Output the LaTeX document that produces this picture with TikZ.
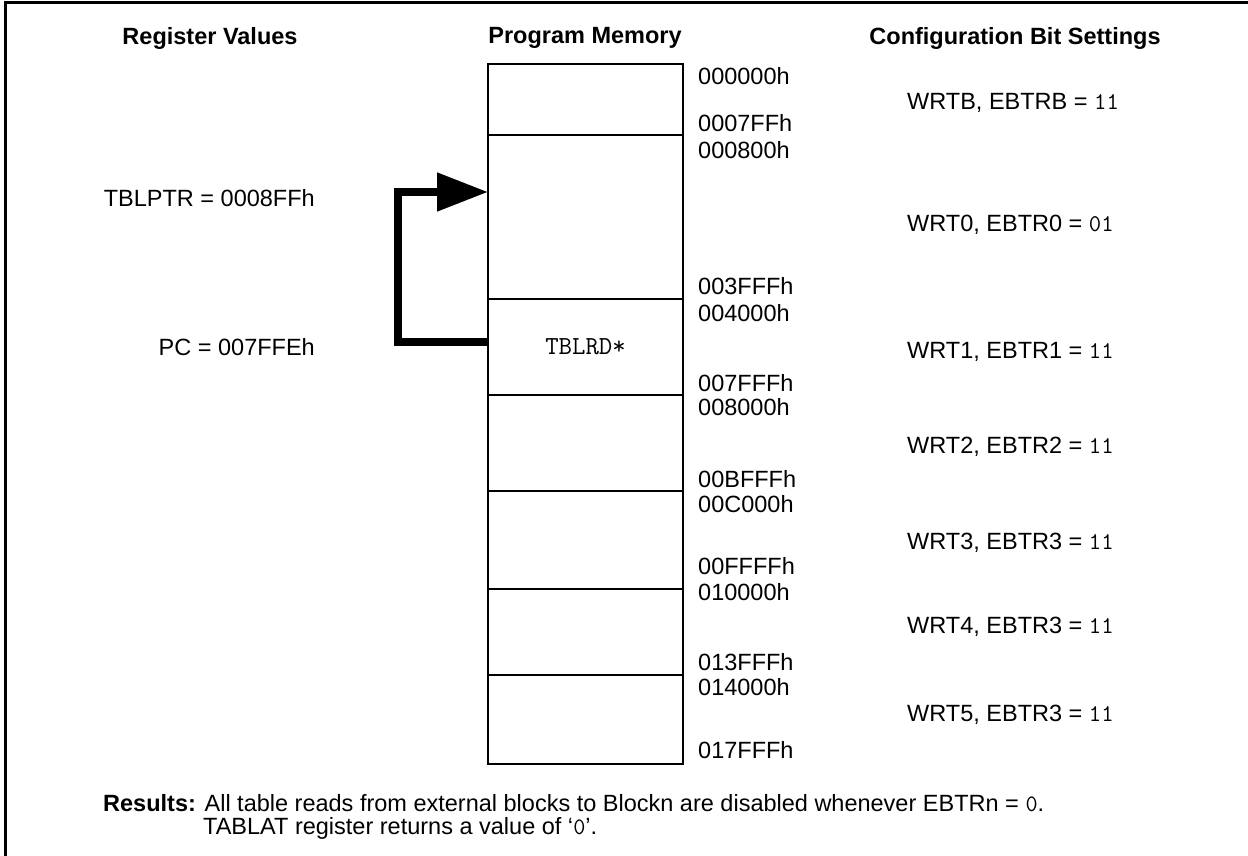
\documentclass[tikz,border=0pt]{standalone}
\usepackage{fontspec}
\setmainfont{Liberation Sans}
\usetikzlibrary{arrows.meta,positioning}

\begin{document}
\begin{tikzpicture}[
  x=1pt, y=-1pt,
  every node/.style={inner sep=0pt,font=\fontsize{23.5}{28}\selectfont},
  head/.style={font=\bfseries\fontsize{23.5}{28}\selectfont},
  memblock/.style={draw,line width=2.4pt,outer sep=0pt,minimum width=195pt,font=\ttfamily\fontsize{26}{30}\selectfont},
  addr/.style={anchor=west},
  bits/.style={anchor=west},
  reg/.style={anchor=east},
  jump/.style={line width=8pt,-{Triangle[length=51pt,width=37pt]}},
  every path/.style={line join=miter}
]
  \useasboundingbox (0,0) rectangle (1248,856);
  \draw[line width=3pt] (1248,3) -- (5,3) -- (5,856);

  \node[head] (hreg) at (210,38) {Register Values};
  \node[head] (hmem) at (585,38) {Program Memory};
  \node[head] (hcfg) at (1015,38) {Configuration Bit Settings};

  \node[memblock,minimum height=71pt] (blkB) at (585.5,99.5) {};
  \node[memblock,minimum height=164pt,below=0pt of blkB] (blk0) {};
  \node[memblock,minimum height=96pt,below=0pt of blk0] (blk1) {TBLRD*};
  \node[memblock,minimum height=96pt,below=0pt of blk1] (blk2) {};
  \node[memblock,minimum height=98pt,below=0pt of blk2] (blk3) {};
  \node[memblock,minimum height=86pt,below=0pt of blk3] (blk4) {};
  \node[memblock,minimum height=89pt,below=0pt of blk4] (blk5) {};

  \node[addr] (aB0) at (698,76) {000000h};
  \node[addr] (aB1) at (698,123) {0007FFh};
  \node[addr] (a00) at (698,150) {000800h};
  \node[addr] (a01) at (698,286) {003FFFh};
  \node[addr] (a10) at (698,313) {004000h};
  \node[addr] (a11) at (698,383) {007FFFh};
  \node[addr] (a20) at (698,407) {008000h};
  \node[addr] (a21) at (698,479) {00BFFFh};
  \node[addr] (a30) at (698,504) {00C000h};
  \node[addr] (a31) at (698,566) {00FFFFh};
  \node[addr] (a40) at (698,592) {010000h};
  \node[addr] (a41) at (698,662) {013FFFh};
  \node[addr] (a50) at (698,687) {014000h};
  \node[addr] (a51) at (698,750) {017FFFh};

  \node[bits] (cB) at (907,103) {WRTB, EBTRB = {\ttfamily\fontsize{24}{28}\selectfont 11}};
  \node[bits] (c0) at (907,225) {WRT0, EBTR0 = {\ttfamily\fontsize{24}{28}\selectfont 01}};
  \node[bits] (c1) at (907,352) {WRT1, EBTR1 = {\ttfamily\fontsize{24}{28}\selectfont 11}};
  \node[bits] (c2) at (907,447) {WRT2, EBTR2 = {\ttfamily\fontsize{24}{28}\selectfont 11}};
  \node[bits] (c3) at (907,543) {WRT3, EBTR3 = {\ttfamily\fontsize{24}{28}\selectfont 11}};
  \node[bits] (c4) at (907,627) {WRT4, EBTR3 = {\ttfamily\fontsize{24}{28}\selectfont 11}};
  \node[bits] (c5) at (907,715) {WRT5, EBTR3 = {\ttfamily\fontsize{24}{28}\selectfont 11}};

  \node[reg] (tblptr) at (315,198) {TBLPTR = 0008FFh};
  \node[reg] (pc) at (315,347) {PC = 007FFEh};

  \draw[jump] ([yshift=5pt]blk1.west) -- ++(-90,0) |- ([yshift=25pt]blk0.west);

  \node[anchor=north west,align=left,font=\fontsize{23.5}{23.5}\selectfont] (res) at (103,794)
    {\textbf{Results:} All table reads from external blocks to Blockn are disabled whenever EBTRn = {\ttfamily 0}.\\
     \hspace*{100pt}TABLAT register returns a value of ‘{\ttfamily 0}’.};
\end{tikzpicture}
\end{document}
